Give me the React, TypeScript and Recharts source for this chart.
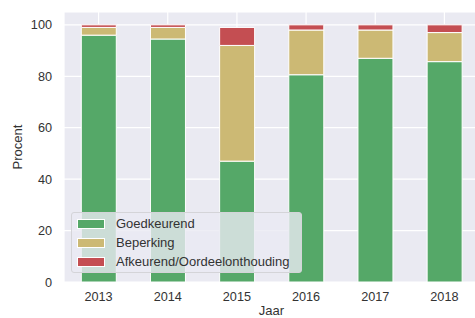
import { BarChart, Bar, XAxis, YAxis, CartesianGrid, Legend } from "recharts";

const years = ["2013", "2014", "2015", "2016", "2017", "2018"];
const goedkeurend = [96, 94.5, 47, 80.6, 87, 85.7];
const beperking = [3, 4.5, 45, 17.4, 11, 11.3];
const afkeurend = [1, 1, 7, 2, 2, 3];
const yTicks = [0, 20, 40, 60, 80, 100];
const seriesNames = ["Goedkeurend", "Beperking", "Afkeurend/Oordeelonthouding"];

const data = years.map((year, i) => ({
  year,
  goedkeurend: goedkeurend[i],
  beperking: beperking[i],
  afkeurend: afkeurend[i]
}));

const textColor = "#333333";
const font = "'Liberation Sans', Arial, sans-serif";

function LegendBox({ payload }: any) {
  // keep legend in plotting order (bottom segment first)
  const items = [...(payload || [])].sort(
    (a: any, b: any) => seriesNames.indexOf(a.value) - seriesNames.indexOf(b.value)
  );
  return (
    <div
      style={{
        width: 231,
        height: 61,
        boxSizing: "border-box",
        background: "rgba(234,234,242,0.8)",
        border: "1px solid #d4d4d8",
        borderRadius: 3,
        padding: "1px 0 0 5px",
        fontFamily: font,
        fontSize: 13,
        color: textColor
      }}
    >
      {items.map((entry: any) => (
        <div
          key={entry.value}
          style={{ display: "flex", alignItems: "center", height: 19 }}
        >
          <span
            style={{
              display: "inline-block",
              width: 26,
              height: 8,
              background: entry.color,
              border: "1px solid #fff",
              marginRight: 11
            }}
          />
          <span>{entry.value}</span>
        </div>
      ))}
    </div>
  );
}

function ProcentLabel({ viewBox }: any) {
  const cx = 17;
  const cy = viewBox.y + viewBox.height / 2;
  return (
    <text
      x={cx}
      y={cy}
      transform={`rotate(-90 ${cx} ${cy})`}
      textAnchor="middle"
      dominantBaseline="central"
      fill={textColor}
      fontSize={13}
      fontFamily={font}
    >
      Procent
    </text>
  );
}

export default function App() {
  return (
    <div
      style={{
        position: "fixed",
        left: 0,
        top: 0,
        width: 475,
        height: 318,
        overflow: "hidden",
        background: "#fff",
        fontFamily: font
      }}
    >
      <BarChart
        width={490}
        height={318}
        data={data}
        margin={{ top: 12, right: 11, left: 0, bottom: 0 }}
        barCategoryGap="25%"
      >
        <CartesianGrid fill="#EAEAF2" stroke="#ffffff" strokeWidth={1.2} />
        <XAxis
          dataKey="year"
          height={36}
          axisLine={false}
          tickLine={false}
          tickMargin={4}
          tick={{ fill: textColor, fontSize: 12.7, fontFamily: font }}
          label={{
            value: "Jaar",
            position: "insideBottom",
            offset: 3,
            fill: textColor,
            fontSize: 13,
            fontFamily: font
          }}
        />
        <YAxis
          width={64}
          domain={[0, 105]}
          ticks={yTicks}
          axisLine={false}
          tickLine={false}
          tickMargin={6}
          tick={{ fill: textColor, fontSize: 12.7, fontFamily: font }}
          label={<ProcentLabel />}
        />
        <Legend
          layout="vertical"
          align="center"
          verticalAlign="middle"
          wrapperStyle={{ left: 71, top: 212, width: 231, height: 61 }}
          content={<LegendBox />}
        />
        <Bar
          dataKey="goedkeurend"
          name={seriesNames[0]}
          stackId="a"
          fill="#55A868"
          stroke="#ffffff"
          strokeWidth={1}
          isAnimationActive={false}
        />
        <Bar
          dataKey="beperking"
          name={seriesNames[1]}
          stackId="a"
          fill="#CCB974"
          stroke="#ffffff"
          strokeWidth={1}
          isAnimationActive={false}
        />
        <Bar
          dataKey="afkeurend"
          name={seriesNames[2]}
          stackId="a"
          fill="#C44E52"
          stroke="#ffffff"
          strokeWidth={1}
          isAnimationActive={false}
        />
      </BarChart>
    </div>
  );
}
